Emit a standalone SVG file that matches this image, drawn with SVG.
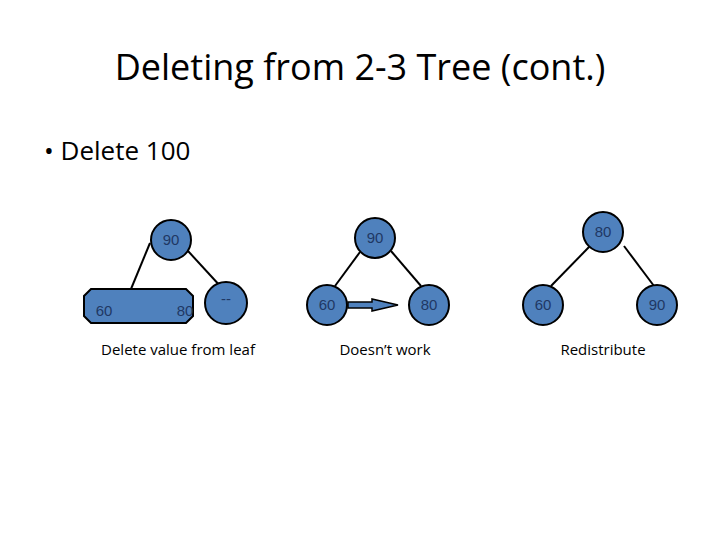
<svg xmlns="http://www.w3.org/2000/svg" width="720" height="540" viewBox="0 0 720 540">
<style>
.n{fill:#4f81bd;stroke:#000;stroke-width:2}
.l{fill:#1f3864;font-family:"Liberation Sans",Arial,sans-serif;font-size:15px;text-anchor:middle}
.c{stroke:#000;stroke-width:2;fill:none}
.t{font-family:"Open Sans","Liberation Sans",sans-serif;fill:#000}
</style>
<rect width="720" height="540" fill="#fff"/>
<text class="t" x="360" y="80" font-size="36" text-anchor="middle">Deleting from 2-3 Tree (cont.)</text>
<text class="t" x="44" y="160" font-size="26">• Delete 100</text>
<g id="connectors">
<line class="c" x1="150" y1="243" x2="131" y2="289"/>
<line class="c" x1="188" y1="251" x2="222" y2="288"/>
<line class="c" x1="360" y1="252" x2="335" y2="286"/>
<line class="c" x1="391" y1="251" x2="421" y2="286"/>
<line class="c" x1="590" y1="246" x2="551" y2="286"/>
<line class="c" x1="624" y1="246" x2="654" y2="286"/>
<polygon points="348,302 372,302 372,299 398,305 372,311 372,308 348,308" fill="#4f81bd" stroke="#000" stroke-width="1.5"/>
</g>
<g id="n1"><circle class="n" cx="171" cy="240" r="20"/><text class="l" x="171" y="245">90</text></g>
<g id="n2"><polygon class="n" points="91,289 186,289 193,296 193,316 186,323 91,323 84,316 84,296"/><text class="l" x="104" y="316">60</text><text class="l" x="185" y="316">80</text></g>
<g id="n3"><circle class="n" cx="226" cy="303" r="21"/><text class="l" x="226" y="304">--</text></g>
<g id="n4"><circle class="n" cx="375" cy="238" r="20"/><text class="l" x="375" y="243">90</text></g>
<g id="n5"><circle class="n" cx="327" cy="305" r="20"/><text class="l" x="327" y="310">60</text></g>
<g id="n6"><circle class="n" cx="429" cy="305" r="20"/><text class="l" x="429" y="310">80</text></g>
<g id="n7"><circle class="n" cx="603" cy="232" r="20"/><text class="l" x="603" y="237">80</text></g>
<g id="n8"><circle class="n" cx="543" cy="305" r="20"/><text class="l" x="543" y="310">60</text></g>
<g id="n9"><circle class="n" cx="657" cy="305" r="20"/><text class="l" x="657" y="310">90</text></g>
<g class="t" font-size="15" text-anchor="middle">
<text x="178" y="355">Delete value from leaf</text>
<text x="385" y="355">Doesn’t work</text>
<text x="603" y="355">Redistribute</text>
</g>
</svg>
